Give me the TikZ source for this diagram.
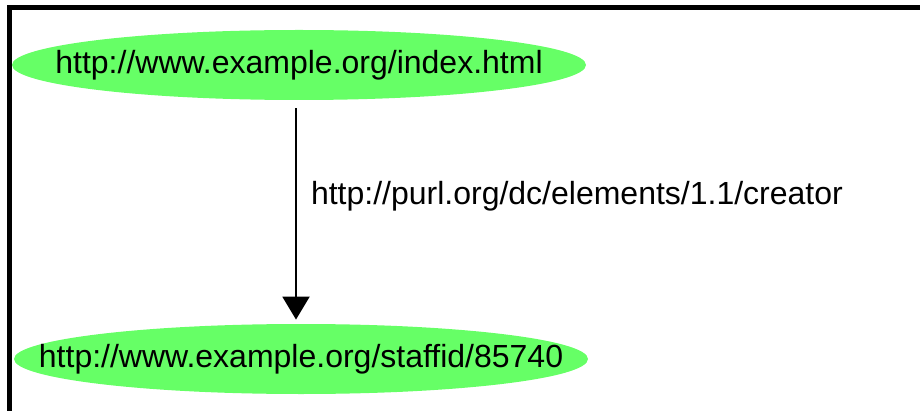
\documentclass[tikz,border=0pt]{standalone}
\usepackage{fontspec}
\setmainfont{Liberation Sans}
\usetikzlibrary{arrows.meta,shapes.geometric,positioning}

\definecolor{rdfgreen}{RGB}{102,255,102}
\tikzset{
  uri/.style={font=\fontsize{16}{19}\selectfont},
  resource/.style={uri, ellipse, fill=rdfgreen, minimum width=287pt, minimum height=35pt, inner sep=0pt},
  property/.style={-{Triangle[width=13.5pt,length=11.5pt]}, line width=1pt},
  frame/.style={line width=2.6pt},
}

\begin{document}
\begin{tikzpicture}[x=0.5pt,y=-0.5pt]
  \useasboundingbox (0,0) rectangle (920,411);
  \coordinate (corner) at (9.7,7.7);
  \draw[frame] (corner) -- (921,7.7);
  \draw[frame] ([yshift=1.3pt]corner) -- (9.7,412);
  \node[resource] (index) at (299,65) {\makebox[0pt]{http://www.example.org/index.html}};
  \node[resource] (staff) at (301,359) {\makebox[0pt]{http://www.example.org/staffid/85740}};
  \draw[property, shorten <=4pt, shorten >=2pt] ([xshift=-1.5pt]index.south) -- node[uri, right=7pt, pos=0.43, inner sep=0pt] (creator) {http://purl.org/dc/elements/1.1/creator} ([xshift=-2.5pt]staff.north);
\end{tikzpicture}
\end{document}
